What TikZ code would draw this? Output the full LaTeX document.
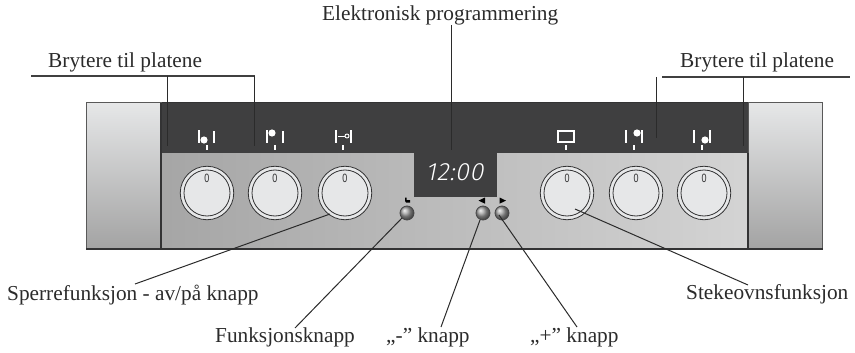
\documentclass[tikz,border=0pt]{standalone}
\usepackage{fontspec}
\setmainfont{Liberation Serif}[Ligatures=NoCommon]
\newfontfamily\zerofont{Liberation Sans}
\newfontfamily\lcdfont{Fira Sans Light}[FakeSlant=0.2,LetterSpace=3]
\definecolor{band}{HTML}{3F3F40}
\definecolor{edge}{HTML}{333334}
\definecolor{ring}{HTML}{E6E7E8}
\definecolor{inkc}{HTML}{2B2B2B}
\tikzset{
  lab/.style={anchor=base west,inner sep=0pt,text=inkc,font=\fontsize{21.3}{24}\selectfont},
  leader/.style={draw=inkc,line width=1pt},
  rulel/.style={draw=inkc!90,line width=1.1pt},
  knobouter/.style={circle,draw=edge,line width=0.8pt,fill=ring,minimum size=53.5pt,inner sep=0pt},
  knobinner/.style={circle,draw=edge,line width=0.8pt,fill=ring,minimum size=46pt,inner sep=0pt},
  zeromark/.style={inner sep=0pt,text=edge,font=\zerofont\fontsize{12}{13}\selectfont},
  btn/.style={circle,draw=edge!90,line width=0.8pt,minimum size=14pt,inner sep=0pt,ball color=black!38,shading=ball},
  sidepanel/.style={draw=black!65,line width=1pt,top color=ring,bottom color=black!36},
  iconw/.style={draw=white,line width=1.6pt},
}
\begin{document}
\begin{tikzpicture}[x=1pt,y=-1pt]
\useasboundingbox (0,0) rectangle (855,353);
% housing
\fill[band] (161,103) rectangle (748,153.5);
\draw[edge,line width=1pt] (161,102.5) -- (748,102.5);
\shade[left color=black!35,right color=black!17] (162,153) rectangle (748,248);
\draw[sidepanel] (86.5,102.5) rectangle (161,248.5);
\draw[sidepanel] (748,102.5) rectangle (822.5,248.5);
\draw[edge,line width=2pt] (161,103) -- (161,249);
\draw[edge,line width=2pt] (748,153) -- (748,249);
\draw[edge,line width=2pt] (86,249) -- (823,249);
% display
\fill[band] (414,152) rectangle (497,197);
\node[inner sep=0pt,text=white,font=\lcdfont\fontsize{25}{26}\selectfont] (lcd) at (454.5,172) {12:00};
% knobs
\foreach \n/\x in {k1/207,k2/275,k3/345,k4/567,k5/636,k6/704}{
  \node[knobouter] (\n) at (\x,193) {};
  \node[knobinner] (\n i) at (\x,193) {};
  \node[zeromark] (\n z) at (\x,178) {\scalebox{0.75}[1]{0}};
}
% buttons
\node[btn] (bf) at (407,213) {};
\node[btn] (bm) at (483,213) {};
\node[btn] (bp) at (502,213) {};
% button symbols
\fill[black] (405,197.5) -- (406.6,197.5) -- (406.6,200) -- (410,200) -- (410,202.5) -- (406,202.5) -- (405,201) -- cycle;
\fill[black] (485,197.5) -- (485,203.7) -- (478.5,200.6) -- cycle;
\fill[black] (499.5,197.5) -- (499.5,203.7) -- (506,200.6) -- cycle;
% icons
\draw[iconw] (199,130) -- (199,143) (214,131) -- (214,143);
\fill[white] (204,140) circle (3.6);
\draw[iconw] (267,130) -- (267,143) (283,131) -- (283,143);
\fill[white] (272,133) circle (3.6);
\draw[iconw] (336,130) -- (336,143) (351,130) -- (351,143);
\draw[white,line width=1pt] (338,136) -- (344.5,136);
\draw[white,line width=0.9pt] (347,136) circle (2);
\draw[white,line width=1.7pt] (558,131) rectangle (574,142);
\draw[iconw] (626,130) -- (626,143) (642,130) -- (642,143);
\fill[white] (637,133) circle (3.6);
\draw[iconw] (694,130) -- (694,143) (710,130) -- (710,143);
\fill[white] (705,140) circle (3.6);
\foreach \x in {207,275,343,566,634,702}
  \draw[white,line width=1.4pt] (\x,145) -- (\x,150);
% labels
\node[lab] (top) at (322,21) {Elektronisk programmering};
\node[lab] (bl) at (48,68) {Brytere til platene};
\node[lab] (br) at (680,68) {Brytere til platene};
\node[lab] (sp) at (7,300) {Sperrefunksjon - av/på knapp};
\node[lab] (fu) at (215,342) {Funksjonsknapp};
\node[lab] (mi) at (386,342) {,,-” knapp};
\node[lab] (pl) at (530,342) {,,+” knapp};
\node[lab] (st) at (686,299) {Stekeovnsfunksjon};
% connector ends
\coordinate (ctop) at (451,25);
\coordinate (ctopb) at (451,150);
\coordinate (lbar) at (31,76);
\coordinate (lbe) at (255,76);
\coordinate (l1t) at (167,76);
\coordinate (l1b) at (167,146);
\coordinate (l2t) at (254,76);
\coordinate (l2b) at (254,146);
\coordinate (rbar) at (662,77);
\coordinate (rbe) at (850,77);
\coordinate (r1t) at (656,77);
\coordinate (r1b) at (656,138);
\coordinate (r2t) at (743.5,77);
\coordinate (r2b) at (743.5,146);
\coordinate (csp) at (135,284);
\coordinate (cfu) at (295,328);
\coordinate (cmi) at (441,327);
\coordinate (cpl) at (577,327);
\coordinate (cst) at (748,285);
\coordinate (k3a) at (330,214);
\coordinate (k4a) at (575,209);
\coordinate (bfa) at (402,218);
\coordinate (bma) at (480,220);
\coordinate (bpa) at (499,215);
% connectors
\draw[leader] (ctop) -- (ctopb);
\draw[rulel] (lbar) -- (lbe);
\draw[leader] (l1t) -- (l1b);
\draw[leader] (l2t) -- (l2b);
\draw[rulel] (rbar) -- (rbe);
\draw[leader] (r1t) -- (r1b);
\draw[leader] (r2t) -- (r2b);
\draw[leader] (csp) -- (k3a);
\draw[leader] (cfu) -- (bfa);
\draw[leader] (cmi) -- (bma);
\draw[leader] (cpl) -- (bpa);
\draw[leader] (cst) -- (k4a);
\end{tikzpicture}
\end{document}
